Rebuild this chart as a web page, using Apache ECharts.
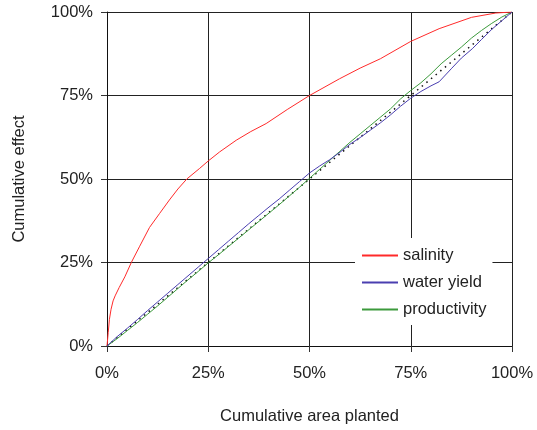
<!DOCTYPE html>
<html>
<head>
<meta charset="utf-8">
<script src="https://cdn.jsdelivr.net/npm/echarts@6/dist/echarts.min.js"></script>
<style>
  html, body { margin: 0; padding: 0; background: #fff; }
  #chart { width: 537px; height: 430px; }
</style>
</head>
<body>
<div id="chart"></div>
<script>
// Cumulative area planted (%) vs cumulative effect (%), per target
const tickValues = [0, 25, 50, 75, 100];

const salinity = [
  [0, 0], [0.3, 4], [0.6, 8], [1, 11], [1.5, 13.5], [2, 15], [3, 17.5],
  [4.4, 20.7], [6, 25], [8, 29.7], [10.5, 35.5], [13, 39.7], [15.4, 43.7],
  [17.5, 47], [19.7, 50], [22.8, 53.1], [25, 55.4], [27.8, 58.1],
  [31.9, 61.6], [35.5, 64.2], [39.3, 66.6], [44.5, 70.8], [50, 75],
  [57.4, 80], [62.5, 83.2], [67.5, 86], [75, 91.2], [82, 95], [90, 98.4],
  [96, 99.7], [100, 100]
];

const waterYield = [
  [0, 0], [2.5, 2.8], [5, 5.3], [7.5, 7.9], [10, 10.6], [12.5, 13.2],
  [15, 15.8], [17.5, 18.4], [20, 21], [22.5, 23.6], [25, 26.2], [27.5, 28.8],
  [30, 31.4], [32.5, 34], [35, 36.6], [37.5, 39.1], [40, 41.6], [42.5, 44],
  [45, 46.6], [47.5, 49.2], [50, 51.8], [52.5, 53.9], [55, 55.8], [57.5, 58],
  [60, 60.4], [62.5, 62.4], [65, 64.6], [67.5, 66.8], [70, 69.2],
  [72.5, 71.8], [75, 74.2], [77.5, 76.2], [80, 77.9], [82, 79.1], [85, 83],
  [87.5, 86.2], [90.2, 89], [92.5, 91.8], [95, 94.8], [97.5, 97.4], [100, 100]
];

const productivity = [
  [0, 0], [2.5, 2.2], [5, 4.6], [7.5, 7], [10, 9.5], [12.5, 12], [15, 14.6],
  [17.5, 17.2], [20, 19.8], [22.5, 22.3], [25, 24.9], [27.5, 27.3],
  [30, 29.8], [32.5, 32.3], [35, 34.8], [37.5, 37.3], [40, 39.8],
  [42.5, 42.3], [45, 44.9], [47.5, 47.5], [50, 50.2], [52.5, 52.9],
  [55, 55.6], [57.5, 58.3], [60, 61], [62.5, 63.5], [65, 66], [67.5, 68.5],
  [70, 71], [72.5, 74], [75, 76.5], [77.5, 78.8], [80, 81.5], [82.5, 84.5],
  [85, 87], [87.5, 89.5], [90, 92.2], [92.5, 94.5], [95, 96.6],
  [97.5, 98.5], [100, 100]
];

const equality = [[0, 0], [100, 100]];

const FONT = '"Liberation Sans", Arial, sans-serif';

function pctAxis(extra) {
  return Object.assign({
    type: 'value',
    min: tickValues[0],
    max: tickValues[tickValues.length - 1],
    interval: 25,
    axisLine: { show: true, lineStyle: { color: '#111', width: 1 } },
    axisTick: { show: true, length: 6, lineStyle: { color: '#333' } },
    splitLine: { show: true, lineStyle: { color: '#222', width: 1 } },
    nameLocation: 'middle',
    nameTextStyle: { color: '#222', fontSize: 16.5, fontFamily: FONT }
  }, extra);
}

const chart = echarts.init(document.getElementById('chart'), null, { renderer: 'canvas' });

chart.setOption({
  backgroundColor: '#fff',
  animation: false,
  grid: { left: 107, right: 25, top: 12, bottom: 84 },
  xAxis: pctAxis({
    name: 'Cumulative area planted',
    nameGap: 62,
    axisLabel: {
      color: '#222', fontSize: 16.5, fontFamily: FONT, margin: 19,
      formatter: v => v + '%'
    }
  }),
  yAxis: pctAxis({
    name: 'Cumulative effect',
    nameGap: 79,
    nameRotate: 90,
    axisLabel: {
      color: '#222', fontSize: 16.5, fontFamily: FONT, margin: 14,
      formatter: v => v + '%'
    }
  }),
  legend: {
    data: ['salinity', 'water yield', 'productivity'],
    orient: 'vertical',
    left: 355,
    top: 238,
    backgroundColor: '#fff',
    padding: [9, 6, 7, 6],
    itemWidth: 36,
    itemHeight: 17,
    itemGap: 10,
    itemStyle: { opacity: 0 },
    textStyle: { color: '#222', fontSize: 16.5, fontFamily: FONT }
  },
  series: [
    {
      name: 'equality',
      type: 'line',
      data: equality,
      symbol: 'none',
      silent: true,
      lineStyle: { color: '#111', width: 1.5, type: [1.5, 4.5] },
      z: 1
    },
    {
      name: 'salinity',
      type: 'line',
      data: salinity,
      symbol: 'none',
      lineStyle: { color: '#ff2a2a', width: 1 },
      itemStyle: { color: '#ff2a2a' },
      z: 3
    },
    {
      name: 'water yield',
      type: 'line',
      data: waterYield,
      symbol: 'none',
      lineStyle: { color: '#4a3fb0', width: 1 },
      itemStyle: { color: '#4a3fb0' },
      z: 3
    },
    {
      name: 'productivity',
      type: 'line',
      data: productivity,
      symbol: 'none',
      lineStyle: { color: '#3c9a3c', width: 1 },
      itemStyle: { color: '#3c9a3c' },
      z: 2
    }
  ]
});
</script>
</body>
</html>
